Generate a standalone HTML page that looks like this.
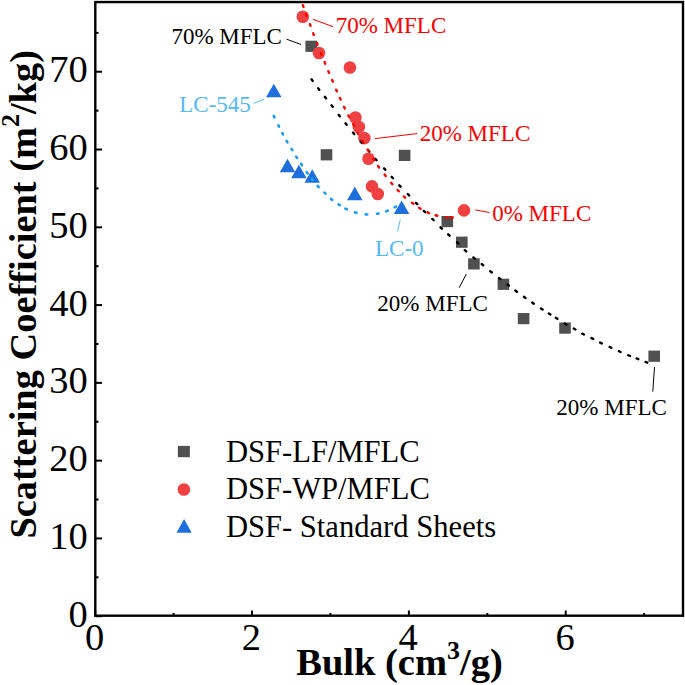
<!DOCTYPE html>
<html><head><meta charset="utf-8"><style>
html,body{margin:0;padding:0;background:#fff;width:685px;height:685px;overflow:hidden}
svg{display:block}
text{font-family:"Liberation Serif",serif;font-variant-ligatures:none}
.tk{font-size:38.5px;fill:#000}
.an{font-size:23px}
.lg{font-size:30.6px;fill:#000}
.ti{font-size:38.5px;font-weight:bold;fill:#000}
.tiy{font-size:38.4px}
.sup{font-size:26px}
</style></head><body>
<svg width="685" height="685" viewBox="0 0 685 685">
<rect x="95.3" y="2.05" width="587.7" height="613.65" fill="none" stroke="#000" stroke-width="2.4"/>
<line x1="96" y1="616.20" x2="102" y2="616.20" stroke="#000" stroke-width="2"/>
<line x1="96" y1="577.31" x2="98.5" y2="577.31" stroke="#000" stroke-width="2"/>
<line x1="96" y1="538.42" x2="102" y2="538.42" stroke="#000" stroke-width="2"/>
<line x1="96" y1="499.53" x2="98.5" y2="499.53" stroke="#000" stroke-width="2"/>
<line x1="96" y1="460.64" x2="102" y2="460.64" stroke="#000" stroke-width="2"/>
<line x1="96" y1="421.75" x2="98.5" y2="421.75" stroke="#000" stroke-width="2"/>
<line x1="96" y1="382.86" x2="102" y2="382.86" stroke="#000" stroke-width="2"/>
<line x1="96" y1="343.97" x2="98.5" y2="343.97" stroke="#000" stroke-width="2"/>
<line x1="96" y1="305.08" x2="102" y2="305.08" stroke="#000" stroke-width="2"/>
<line x1="96" y1="266.19" x2="98.5" y2="266.19" stroke="#000" stroke-width="2"/>
<line x1="96" y1="227.30" x2="102" y2="227.30" stroke="#000" stroke-width="2"/>
<line x1="96" y1="188.41" x2="98.5" y2="188.41" stroke="#000" stroke-width="2"/>
<line x1="96" y1="149.52" x2="102" y2="149.52" stroke="#000" stroke-width="2"/>
<line x1="96" y1="110.63" x2="98.5" y2="110.63" stroke="#000" stroke-width="2"/>
<line x1="96" y1="71.74" x2="102" y2="71.74" stroke="#000" stroke-width="2"/>
<line x1="96" y1="32.85" x2="98.5" y2="32.85" stroke="#000" stroke-width="2"/>
<line x1="95.20" y1="615" x2="95.20" y2="610.5" stroke="#000" stroke-width="2"/>
<line x1="173.62" y1="615" x2="173.62" y2="613" stroke="#000" stroke-width="2"/>
<line x1="252.04" y1="615" x2="252.04" y2="610.5" stroke="#000" stroke-width="2"/>
<line x1="330.46" y1="615" x2="330.46" y2="613" stroke="#000" stroke-width="2"/>
<line x1="408.88" y1="615" x2="408.88" y2="610.5" stroke="#000" stroke-width="2"/>
<line x1="487.30" y1="615" x2="487.30" y2="613" stroke="#000" stroke-width="2"/>
<line x1="565.72" y1="615" x2="565.72" y2="610.5" stroke="#000" stroke-width="2"/>
<line x1="644.14" y1="615" x2="644.14" y2="613" stroke="#000" stroke-width="2"/>
<text x="87.7" y="626.70" text-anchor="end" class="tk">0</text>
<text x="87.7" y="548.92" text-anchor="end" class="tk">10</text>
<text x="87.7" y="471.14" text-anchor="end" class="tk">20</text>
<text x="87.7" y="393.36" text-anchor="end" class="tk">30</text>
<text x="87.7" y="315.58" text-anchor="end" class="tk">40</text>
<text x="87.7" y="237.80" text-anchor="end" class="tk">50</text>
<text x="87.7" y="160.02" text-anchor="end" class="tk">60</text>
<text x="87.7" y="82.24" text-anchor="end" class="tk">70</text>
<text x="94.50" y="649.7" text-anchor="middle" class="tk">0</text>
<text x="251.34" y="649.7" text-anchor="middle" class="tk">2</text>
<text x="408.18" y="649.7" text-anchor="middle" class="tk">4</text>
<text x="565.02" y="649.7" text-anchor="middle" class="tk">6</text>
<rect x="305.40" y="40.70" width="11.6" height="11.2" fill="#505050"/>
<rect x="320.70" y="149.20" width="11.6" height="11.2" fill="#505050"/>
<rect x="398.80" y="149.80" width="11.6" height="11.2" fill="#505050"/>
<rect x="441.50" y="216.00" width="11.6" height="11.2" fill="#505050"/>
<rect x="456.00" y="236.60" width="11.6" height="11.2" fill="#505050"/>
<rect x="468.10" y="258.30" width="11.6" height="11.2" fill="#505050"/>
<rect x="497.60" y="278.70" width="11.6" height="11.2" fill="#505050"/>
<rect x="517.80" y="313.00" width="11.6" height="11.2" fill="#505050"/>
<rect x="559.20" y="322.50" width="11.6" height="11.2" fill="#505050"/>
<rect x="648.40" y="350.60" width="11.6" height="11.2" fill="#505050"/>
<circle cx="302.8" cy="16.8" r="6.3" fill="#ef4141"/>
<circle cx="319.0" cy="53.0" r="6.3" fill="#ef4141"/>
<circle cx="349.9" cy="67.5" r="6.3" fill="#ef4141"/>
<circle cx="355.4" cy="117.5" r="6.3" fill="#ef4141"/>
<circle cx="358.9" cy="127.0" r="6.3" fill="#ef4141"/>
<circle cx="364.4" cy="138.1" r="6.3" fill="#ef4141"/>
<circle cx="368.5" cy="158.8" r="6.3" fill="#ef4141"/>
<circle cx="372.0" cy="186.4" r="6.3" fill="#ef4141"/>
<circle cx="377.8" cy="194.0" r="6.3" fill="#ef4141"/>
<circle cx="464.0" cy="210.4" r="6.3" fill="#ef4141"/>
<path d="M273.80,83.75 L281.55,97.25 L266.05,97.25 Z" fill="#1e6edc"/>
<path d="M287.50,158.65 L295.25,172.15 L279.75,172.15 Z" fill="#1e6edc"/>
<path d="M298.90,164.85 L306.65,178.35 L291.15,178.35 Z" fill="#1e6edc"/>
<path d="M312.20,169.35 L319.95,182.85 L304.45,182.85 Z" fill="#1e6edc"/>
<path d="M354.80,186.65 L362.55,200.15 L347.05,200.15 Z" fill="#1e6edc"/>
<path d="M401.60,200.45 L409.35,213.95 L393.85,213.95 Z" fill="#1e6edc"/>
<path d="M311.53,79.34L312.67,80.86M318.13,88.24L319.27,89.76M324.81,96.85L325.99,98.35M331.52,105.35L332.68,106.85M338.62,114.85L339.78,116.35M345.50,123.36L346.70,124.84M352.99,132.57L354.21,134.03M360.68,141.53L361.92,142.97M368.09,150.07L369.31,151.53M375.27,158.78L376.53,160.22M384.06,168.40L385.34,169.80M391.66,176.79L392.94,178.21M399.25,185.31L400.55,186.69M407.74,194.01L409.06,195.39M415.94,202.81L417.26,204.19M423.82,210.93L425.18,212.27M432.32,218.93L433.68,220.27M440.52,227.34L441.88,228.66M448.19,234.36L449.61,235.64M457.01,242.25L458.39,243.55M464.80,250.16L466.20,251.44M473.36,257.40L474.84,258.60M481.76,264.10L483.24,265.30M490.26,271.21L491.74,272.39M498.95,277.92L500.45,279.08M507.45,284.42L508.95,285.58M515.34,290.53L516.86,291.67M523.93,296.85L525.47,297.95M532.21,302.57L533.79,303.63M541.00,308.48L542.60,309.52M548.80,313.39L550.40,314.41M555.80,317.79L557.40,318.81M564.78,323.61L566.42,324.59M573.78,328.53L575.42,329.47M582.26,333.65L583.94,334.55M591.45,338.08L593.15,338.92M600.05,342.58L601.75,343.42M609.64,347.00L611.36,347.80M618.83,351.22L620.57,351.98M628.22,355.24L629.98,355.96M636.61,358.46L638.39,359.14M645.52,361.95L647.28,362.65" fill="none" stroke="#000" stroke-width="2.4" stroke-linecap="round"/>
<path d="M302.90,5.25L303.50,6.95M305.99,14.06L306.61,15.74M309.89,24.16L310.51,25.84M313.19,33.36L313.81,35.04M316.87,42.96L317.53,44.64M320.86,53.07L321.54,54.73M324.56,62.07L325.24,63.73M328.35,71.17L329.05,72.83M332.15,79.97L332.85,81.63M336.14,89.67L336.86,91.33M339.92,97.88L340.68,99.52M344.01,106.89L344.79,108.51M348.38,115.41L349.22,116.99M353.18,124.11L354.02,125.69M357.57,132.71L358.43,134.29M362.34,141.13L363.26,142.67M367.52,149.44L368.48,150.96M373.22,158.64L374.18,160.16M377.98,166.07L379.02,167.53M384.54,174.60L385.66,176.00M391.21,182.82L392.39,184.18M397.59,189.94L398.81,191.26M403.82,196.51L405.18,197.69M411.97,202.67L413.43,203.73M419.03,207.83L420.57,208.77M427.47,212.34L429.13,213.06M435.63,215.27L437.37,215.73M445.91,217.38L447.69,217.62M450.90,217.50L452.70,217.50" fill="none" stroke="#ff0000" stroke-width="2.4" stroke-linecap="round"/>
<path d="M273.75,115.98L274.45,117.42M278.34,125.29L279.06,126.71M282.32,133.09L283.08,134.51M286.60,140.91L287.40,142.29M291.48,148.82L292.32,150.18M296.17,156.63L297.03,157.97M301.15,163.94L302.05,165.26M306.72,172.16L307.68,173.44M311.90,178.58L312.90,179.82M317.66,185.91L318.74,187.09M324.42,192.55L325.58,193.65M331.08,198.89L332.32,199.91M338.53,204.36L339.87,205.24M345.38,208.56L346.82,209.24M354.93,212.39L356.47,212.81M365.70,214.36L367.30,214.44M377.01,213.73L378.59,213.47M386.25,211.29L387.75,210.71M394.58,207.25L396.02,206.55" fill="none" stroke="#1a9cf2" stroke-width="2.6" stroke-linecap="round"/>
<line x1="286.6" y1="39.2" x2="301" y2="44.5" stroke="#000" stroke-width="1"/>
<line x1="312.8" y1="19.3" x2="333" y2="26.7" stroke="#ff0000" stroke-width="1"/>
<line x1="375" y1="138.6" x2="417.2" y2="133.6" stroke="#ff0000" stroke-width="1"/>
<line x1="475.2" y1="209.9" x2="489.4" y2="212.5" stroke="#ff0000" stroke-width="1"/>
<line x1="253.6" y1="103.4" x2="264.1" y2="99.2" stroke="#56b9f7" stroke-width="1"/>
<line x1="400.3" y1="219.6" x2="397.5" y2="231.4" stroke="#56b9f7" stroke-width="1"/>
<line x1="466.3" y1="274.1" x2="459.1" y2="287.8" stroke="#000" stroke-width="1"/>
<line x1="654.5" y1="367.2" x2="652.8" y2="391.6" stroke="#000" stroke-width="1"/>
<text x="171.4" y="44.1" class="an">70% MFLC</text>
<text x="335.7" y="32.6" class="an" fill="#ff0000">70% MFLC</text>
<text x="419.7" y="141.1" class="an" fill="#ff0000">20% MFLC</text>
<text x="492.2" y="221.3" class="an" fill="#ff0000">0% MFLC</text>
<text x="179.3" y="112" class="an" fill="#56b9f7">LC-545</text>
<text x="375.0" y="256.4" class="an" fill="#56b9f7">LC-0</text>
<text x="377.3" y="310.8" class="an">20% MFLC</text>
<text x="556.3" y="415" class="an">20% MFLC</text>
<rect x="177.85" y="445.9" width="12" height="11.3" fill="#505050"/>
<circle cx="183.9" cy="489.5" r="6.3" fill="#ef4141"/>
<path d="M184.1,519.1 L191.7,532.7 L176.5,532.7 Z" fill="#1e6edc"/>
<text x="225.9" y="461.5" class="lg">DSF-LF/MFLC</text>
<text x="225.9" y="499.1" class="lg">DSF-WP/MFLC</text>
<text x="225.9" y="537" class="lg">DSF- Standard Sheets</text>
<text x="399.5" y="675.3" text-anchor="middle" class="ti">Bulk (cm<tspan class="sup" dy="-16">3</tspan><tspan dy="16">/g)</tspan></text>
<text transform="translate(35.5,294.3) rotate(-90)" text-anchor="middle" class="ti tiy">Scattering Coefficient (m<tspan class="sup" dy="-16.5">2</tspan><tspan dy="16.5">/kg)</tspan></text>
</svg></body></html>
